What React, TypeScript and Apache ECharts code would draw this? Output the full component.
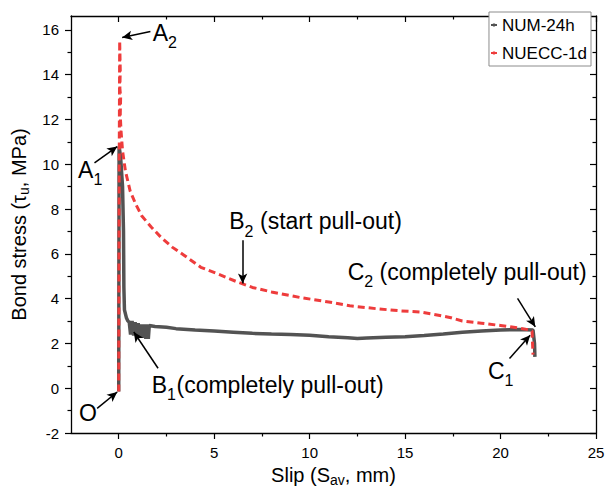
import React, { useEffect, useRef } from "react";
import * as echarts from "echarts";

// ---------- data ----------
const numSlip = [0, 0.01, 0.02, 0.1, 0.2, 0.25, 0.27, 0.3, 0.4, 0.48, 0.55, 0.62, 0.7, 0.78, 0.86, 0.94, 1.02, 1.1, 1.18, 1.26, 1.34, 1.42, 1.5, 1.55, 1.6, 1.9, 2.5, 3, 4, 5, 6, 7, 8, 9, 10, 11, 12, 12.5, 13, 14, 15, 16, 17, 18, 19, 20, 21, 21.7, 21.78, 21.8];
const numStress = [-0.15, 6, 10.8, 10.3, 9, 7, 4.5, 3.5, 3.15, 3.0, 2.95, 2.4, 3.0, 2.35, 2.95, 2.3, 2.9, 2.3, 2.85, 2.25, 2.85, 2.2, 2.85, 2.2, 2.8, 2.76, 2.72, 2.66, 2.6, 2.55, 2.5, 2.45, 2.42, 2.4, 2.36, 2.3, 2.25, 2.22, 2.24, 2.28, 2.3, 2.35, 2.42, 2.5, 2.55, 2.6, 2.62, 2.6, 2.0, 1.4];

const nueccSlip = [0, 0.01, 0.03, 0.05, 0.08, 0.06, 0.1, 0.08, 0.12, 0.2, 0.35, 0.6, 0.9, 1.2, 1.7, 2.2, 2.8, 3.4, 4.3, 5.2, 6.2, 7, 8, 9.5, 11, 12.1, 13.5, 14.8, 15.8, 16.5, 17.4, 18, 19, 20, 20.5, 21, 21.55, 21.65, 21.7];
const nueccStress = [-0.15, 5, 11, 15.5, 14.2, 13.4, 13, 12.2, 11.5, 10.6, 9.7, 8.8, 8.2, 7.7, 7.2, 6.75, 6.3, 5.95, 5.4, 5.1, 4.75, 4.5, 4.3, 4.05, 3.85, 3.68, 3.55, 3.45, 3.4, 3.3, 3.15, 3.0, 2.9, 2.8, 2.74, 2.68, 2.6, 2.55, 1.5];

const seriesNames = ["NUM-24h", "NUECC-1d"];

const xMajorTicks = [0, 5, 10, 15, 20, 25];
const xMinorTicks = [2.5, 7.5, 12.5, 17.5, 22.5];
const yMajorTicks = [-2, 0, 2, 4, 6, 8, 10, 12, 14, 16];
const yMinorTicks = [-1, 1, 3, 5, 7, 9, 11, 13, 15];

// annotation arrows: [fromX, fromY, toX, toY] in data units
const arrows = [
  [1.66, 15.93, 0.18, 15.66],
  [-1.27, 10.06, -0.08, 10.79],
  [-1.13, -0.9, -0.08, -0.17],
  [2.06, 0.89, 0.79, 2.51],
  [6.49, 6.61, 6.49, 4.68],
  [20.89, 4.01, 21.82, 2.74],
  [20.47, 1.33, 21.55, 2.37],
];

const FONT = '"Liberation Sans", Arial, Helvetica, sans-serif';

function txt(text: string, x: number, y: number, size: number) {
  return {
    type: "text",
    x,
    y,
    silent: true,
    z: 100,
    style: {
      text,
      font: `${size}px ${FONT}`,
      fill: "#000",
      textAlign: "left",
      textVerticalAlign: "middle",
      align: "left",
      verticalAlign: "middle",
    },
  };
}

function axisPair(kind: "x" | "y", pos: string, main: boolean, inside: boolean, ticks: number[], len: number, extra: any) {
  const base: any = {
    type: "value",
    position: pos,
    min: kind === "x" ? -2.5 : -2,
    max: kind === "x" ? 25 : 16.62,
    interval: kind === "x" ? 2.5 : 1,
    splitLine: { show: false },
    axisLine: { show: main, onZero: false, lineStyle: { color: "#000", width: 1.3 } },
    axisTick: { show: true, inside, length: len, customValues: ticks, lineStyle: { color: "#000", width: 1.2 } },
    axisLabel: { show: false },
    ...extra,
  };
  return base;
}

const richName = {
  m: { fontSize: 20, fontFamily: FONT, color: "#000", lineHeight: 24, verticalAlign: "middle" },
  s: { fontSize: 14, fontFamily: FONT, color: "#000", lineHeight: 24, verticalAlign: "bottom" },
};

export default function App() {
  const ref = useRef<HTMLDivElement>(null);
  useEffect(() => {
    if (!ref.current) return;
    const chart = echarts.init(ref.current, null, { renderer: "svg" });
    const numData = numSlip.map((x, i) => [x, numStress[i]]);
    const nueccData = nueccSlip.map((x, i) => [x, nueccStress[i]]);

    const option: any = {
      animation: false,
      grid: { left: 71, right: 12, top: 16, bottom: 64 },
      legend: {
        data: seriesNames,
        orient: "vertical",
        right: 17,
        top: 12,
        itemWidth: 6,
        itemHeight: 4,
        itemGap: 8,
        padding: [3, 4, 3, 1],
        backgroundColor: "#fff",
        borderColor: "#8c8c8c",
        borderWidth: 1,
        textStyle: { fontSize: 17, fontFamily: FONT, color: "#000", lineHeight: 20 },
      },
      xAxis: [
        axisPair("x", "bottom", true, false, xMajorTicks, 6, {
          axisLabel: {
            show: true,
            customValues: xMajorTicks,
            fontSize: 15,
            fontFamily: FONT,
            color: "#000",
            margin: 12,
          },
          name: "{m|Slip (S}{s|av}{m|, mm)}",
          nameLocation: "middle",
          nameGap: 29,
          nameTextStyle: { rich: richName },
        }),
        axisPair("x", "bottom", false, false, xMinorTicks, 3.5, {}),
        axisPair("x", "top", true, true, xMajorTicks, 6, {}),
        axisPair("x", "top", false, true, xMinorTicks, 3.5, {}),
      ],
      yAxis: [
        axisPair("y", "left", true, false, yMajorTicks, 6, {
          axisLabel: {
            show: true,
            customValues: yMajorTicks,
            fontSize: 15,
            fontFamily: FONT,
            color: "#000",
            margin: 12,
          },
          name: "{m|Bond stress (τ}{s|u}{m|, MPa)}",
          nameLocation: "middle",
          nameRotate: 90,
          nameGap: 40,
          nameTextStyle: { rich: richName },
        }),
        axisPair("y", "left", false, false, yMinorTicks, 3.5, {}),
        axisPair("y", "right", true, true, yMajorTicks, 6, {}),
        axisPair("y", "right", false, true, yMinorTicks, 3.5, {}),
      ],
      series: [
        {
          name: seriesNames[0],
          type: "line",
          xAxisIndex: 0,
          yAxisIndex: 0,
          data: numData,
          showSymbol: false,
          symbol: "none",
          lineStyle: { color: "#535353", width: 3.5 },
          itemStyle: { color: "#535353" },
          z: 2,
          markLine: {
            silent: true,
            symbol: ["none", "arrow"],
            symbolSize: [7, 10],
            label: { show: false },
            lineStyle: { color: "#000", width: 1.5, type: "solid" },
            emphasis: { disabled: true },
            data: arrows.map((a) => [{ coord: [a[0], a[1]] }, { coord: [a[2], a[3]] }]),
            z: 10,
          },
        },
        {
          name: seriesNames[1],
          type: "line",
          xAxisIndex: 0,
          yAxisIndex: 0,
          data: nueccData,
          showSymbol: false,
          symbol: "none",
          lineStyle: { color: "#ee3c3c", width: 3, type: [7, 4] },
          itemStyle: { color: "#ee3c3c" },
          z: 3,
        },
      ],
      graphic: [
        txt("A", 152.7, 32.5, 23),
        txt("2", 168, 42, 16),
        txt("A", 78, 169.5, 23),
        txt("1", 93.5, 179, 16),
        txt("O", 79, 413, 23),
        txt("B", 151.7, 385, 23),
        txt("1", 167, 394, 16),
        txt("(completely pull-out)", 176.5, 385, 23),
        txt("B", 229.3, 221, 23),
        txt("2", 244.6, 231, 16),
        txt("(start pull-out)", 260, 221, 23),
        txt("C", 347.7, 271.5, 23),
        txt("2", 364.3, 281, 16),
        txt("(completely pull-out)", 379.5, 271.5, 23),
        txt("C", 488, 370.5, 23),
        txt("1", 504.6, 380, 16),
      ],
    };
    chart.setOption(option);
    return () => chart.dispose();
  }, []);
  return (
    <div
      ref={ref}
      style={{ position: "fixed", left: 0, top: 0, width: 608, height: 497, background: "#fff" }}
    />
  );
}
